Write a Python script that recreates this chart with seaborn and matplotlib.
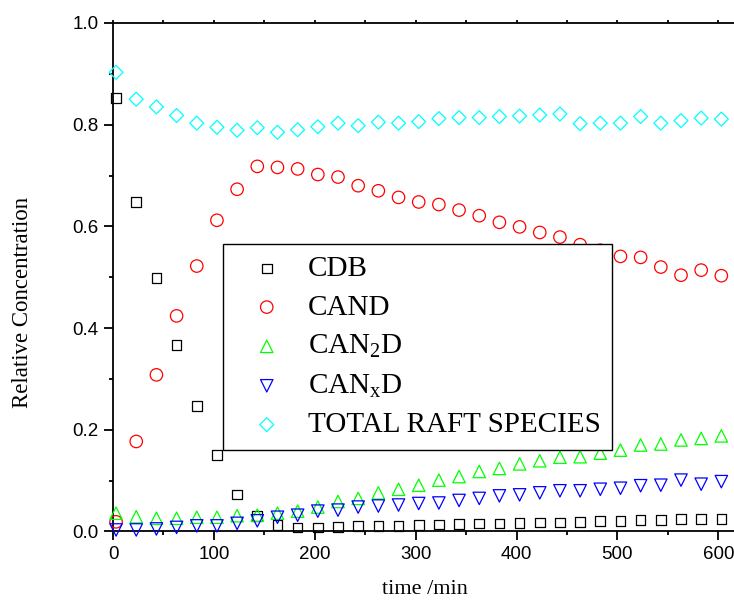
import numpy as np
import pandas as pd
import matplotlib
matplotlib.use("Agg")
import matplotlib.pyplot as plt
import seaborn as sns
from matplotlib.ticker import MultipleLocator

# ---- data ----
time_min = [3, 23, 43, 63, 83, 103, 123, 143, 163, 183, 203, 223, 243, 263, 283,
            303, 323, 343, 363, 383, 403, 423, 443, 463, 483, 503, 523, 543, 563, 583, 603]

cdb = [0.853, 0.648, 0.498, 0.367, 0.247, 0.150, 0.073, 0.030, 0.013, 0.008, 0.008,
       0.009, 0.011, 0.011, 0.011, 0.013, 0.014, 0.015, 0.016, 0.016, 0.017, 0.018,
       0.018, 0.019, 0.021, 0.021, 0.023, 0.023, 0.024, 0.025, 0.025]

cand = [0.019, 0.177, 0.308, 0.424, 0.522, 0.612, 0.673, 0.718, 0.716, 0.713, 0.702,
        0.697, 0.680, 0.670, 0.657, 0.648, 0.643, 0.632, 0.621, 0.608, 0.599, 0.588,
        0.579, 0.564, 0.553, 0.541, 0.539, 0.520, 0.504, 0.514, 0.503]

can2d = [0.036, 0.029, 0.026, 0.026, 0.028, 0.028, 0.031, 0.032, 0.036, 0.040, 0.048,
         0.059, 0.065, 0.076, 0.083, 0.091, 0.101, 0.108, 0.118, 0.124, 0.133, 0.139,
         0.146, 0.147, 0.154, 0.160, 0.170, 0.172, 0.180, 0.183, 0.188]

canxd = [0.003, 0.003, 0.005, 0.008, 0.011, 0.011, 0.016, 0.021, 0.028, 0.032, 0.040,
         0.042, 0.048, 0.050, 0.052, 0.055, 0.056, 0.061, 0.065, 0.070, 0.072, 0.076,
         0.080, 0.080, 0.083, 0.085, 0.090, 0.091, 0.101, 0.093, 0.098]

total = [0.903, 0.850, 0.835, 0.818, 0.803, 0.795, 0.789, 0.794, 0.785, 0.790, 0.796,
         0.803, 0.798, 0.805, 0.803, 0.806, 0.812, 0.814, 0.814, 0.816, 0.817, 0.819,
         0.821, 0.802, 0.803, 0.803, 0.816, 0.803, 0.808, 0.813, 0.811]

series_labels = ["CDB", "CAND", r"CAN$_\mathrm{2}$D", r"CAN$_\mathrm{x}$D", "TOTAL RAFT SPECIES"]
series_values = [cdb, cand, can2d, canxd, total]
series_colors = ["#000000", "#FF0000", "#00FF00", "#0000FF", "#00FFFF"]
series_markers = ["s", "o", "^", "v", "D"]
series_sizes = [48, 80, 80, 80, 50]

# ---- style ----
sns.set_style("ticks")
plt.rcParams["font.family"] = ["Liberation Sans", "DejaVu Sans"]
plt.rcParams["text.color"] = "black"
plt.rcParams["axes.labelcolor"] = "black"
plt.rcParams["xtick.color"] = "black"
plt.rcParams["ytick.color"] = "black"
plt.rcParams["mathtext.fontset"] = "custom"
plt.rcParams["mathtext.rm"] = "Liberation Serif"
plt.rcParams["mathtext.it"] = "Liberation Serif:italic"

fig = plt.figure(figsize=(7.34, 6.0), dpi=100)
ax = fig.add_axes([0.154, 0.1142, 0.859, 0.8475])

handles = []
for lab, vals, col, mk, sz in zip(series_labels, series_values, series_colors,
                                  series_markers, series_sizes):
    df = pd.DataFrame({"time": time_min, "conc": vals})
    sns.scatterplot(data=df, x="time", y="conc", ax=ax, marker=mk, s=sz,
                    color=col, linewidth=1.0, legend=False, zorder=3)
    coll = ax.collections[-1]
    coll.set_facecolor("none")
    coll.set_edgecolor(col)
    coll.set_linewidth(0.9)
    coll.set_clip_on(False)
    coll.set_label(lab)
    handles.append(coll)

ax.set_xlim(0, 625)
ax.set_ylim(0, 1.0)
ax.xaxis.set_major_locator(MultipleLocator(100))
ax.xaxis.set_minor_locator(MultipleLocator(50))
ax.yaxis.set_major_locator(MultipleLocator(0.2))
ax.yaxis.set_minor_locator(MultipleLocator(0.1))
ax.yaxis.set_major_formatter(matplotlib.ticker.FormatStrFormatter("%.1f"))

for s in ["left", "bottom", "top"]:
    ax.spines[s].set_linewidth(1.3)
    ax.spines[s].set_color("black")
ax.spines["right"].set_visible(False)

ax.tick_params(axis="both", which="major", direction="out", length=6.5, width=1.3,
               labelsize=13.5, pad=4, colors="black")
ax.tick_params(axis="both", which="minor", direction="out", length=3, width=1.3)
ax.tick_params(axis="x", which="both", top=True)
for t in ax.xaxis.get_major_ticks() + ax.xaxis.get_minor_ticks():
    t.tick2line.set_markersize(2)

ax.set_xlabel("time /min", family="Liberation Serif", fontsize=16, color="black")
ax.set_ylabel("Relative Concentration", family="Liberation Serif", fontsize=16.5,
              color="black")
ax.xaxis.set_label_coords(0.495, -0.115)
ax.xaxis.label.set_va("center")
ax.yaxis.set_label_coords(-0.144, 0.451)
ax.yaxis.label.set_va("center")

leg = ax.legend(handles=handles, labels=series_labels, loc="upper left",
                bbox_to_anchor=(223 / 734, 1 - 244 / 600), bbox_transform=fig.transFigure,
                borderaxespad=0, frameon=True, fancybox=False, shadow=False,
                prop={"family": "Liberation Serif", "size": 21},
                handlelength=2.2, handletextpad=0.3, labelspacing=0.42,
                borderpad=0.4, scatterpoints=1)
for txt in leg.get_texts():
    txt.set_color("black")
leg.get_frame().set_edgecolor("black")
leg.get_frame().set_linewidth(1.0)
leg.get_frame().set_alpha(1)
leg.set_zorder(10)

fig.savefig("out.png", dpi=100)
